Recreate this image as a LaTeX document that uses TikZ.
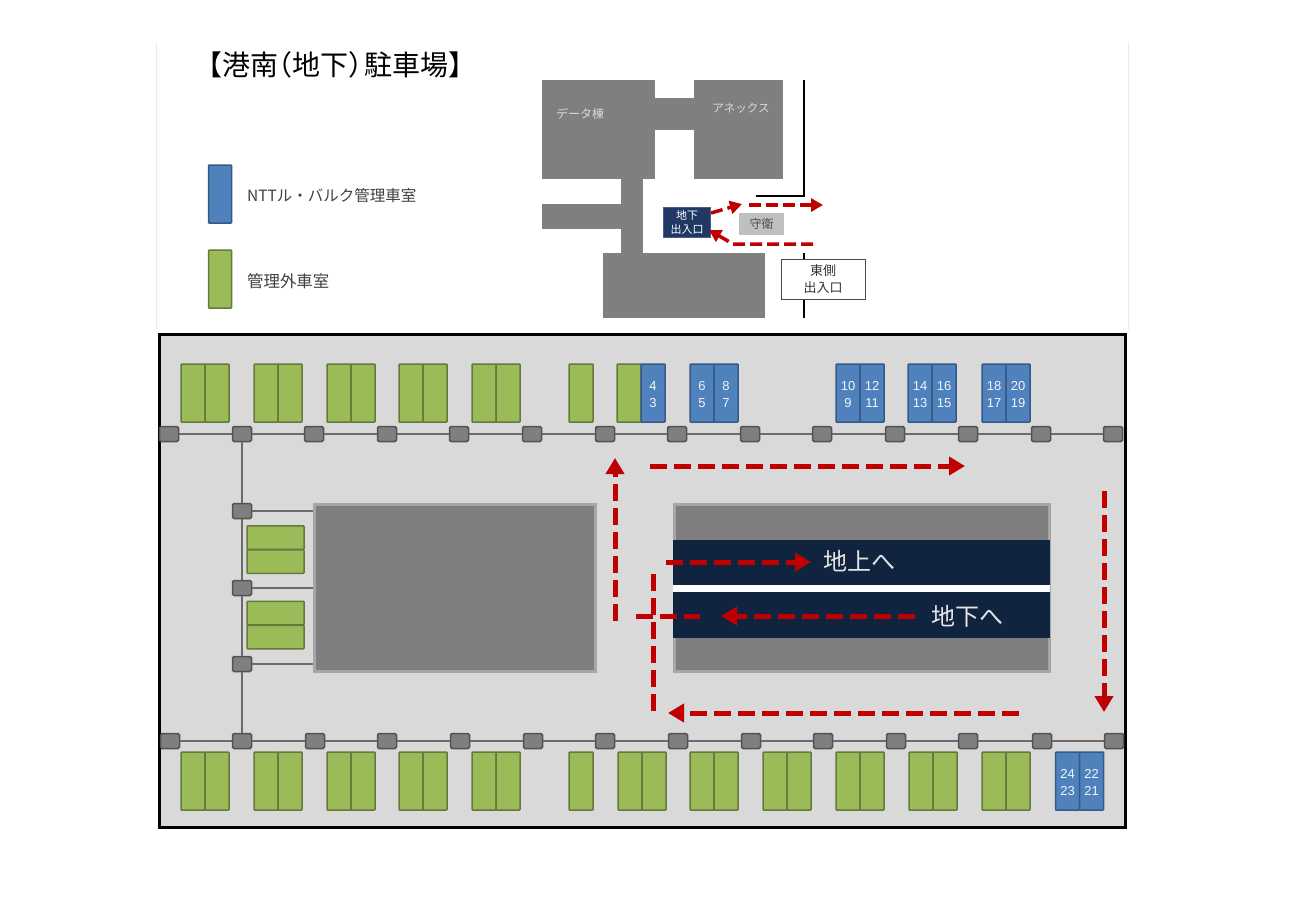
\documentclass[tikz,border=0pt]{standalone}
\usepackage{fontspec}
\setmainfont{Noto Sans CJK JP}
\newfontfamily\numfont{Liberation Sans}
\usetikzlibrary{arrows.meta}

\definecolor{slotgreen}{HTML}{9BBB59}
\definecolor{slotblue}{HTML}{4F81BD}
\definecolor{floorgray}{HTML}{D9D9D9}
\definecolor{bldggray}{HTML}{7F7F7F}
\definecolor{darknavy}{HTML}{10243F}
\definecolor{gatenavy}{HTML}{1F3864}
\definecolor{routered}{HTML}{C00000}

\newcommand{\numstrut}{\rule[-0.6pt]{0pt}{12.6pt}}

\tikzset{
    slotg/.style={draw=slotgreen!65!black, fill=slotgreen, line width=1.5pt, rounded corners=0.8pt, minimum width=24pt, minimum height=58pt, inner sep=0pt},
    slotb/.style={draw=slotblue!70!black, fill=slotblue, line width=1.5pt, rounded corners=0.8pt, minimum width=24pt, minimum height=58pt, inner sep=0pt, align=center, text=white!92!slotblue, font=\numfont\fontsize{13}{17}\selectfont},
    lamp/.style={draw=black!68, fill=bldggray, line width=1.5pt, rounded corners=1.5pt, minimum width=19pt, minimum height=15pt, inner sep=0pt},
    wire/.style={draw=black!58, line width=1.6pt},
    bldg/.style={fill=bldggray},
    block/.style={draw=black!35, fill=bldggray, line width=3pt, inner sep=0pt},
    strip/.style={fill=darknavy, minimum width=377pt, inner sep=0pt},
    route/.style={draw=routered, line width=5pt, dash pattern=on 17pt off 7pt, -{Triangle[length=16pt,width=18pt]}},
    routeplain/.style={draw=routered, line width=5pt, dash pattern=on 17pt off 7pt},
    minirt/.style={draw=routered, line width=3.5pt, dash pattern=on 12pt off 5pt, -{Triangle[length=12pt,width=13pt]}},
    bigtxt/.style={text=white!90!black, inner sep=0pt, font=\fontsize{24}{26}\selectfont},
    legendtxt/.style={text=black!75, inner sep=0pt, anchor=west}
}

\begin{document}
\begin{tikzpicture}[x=1pt, y=-1pt]
    \path[use as bounding box, fill=white] (0,0) rectangle (1293,922);

    % Page edges
    \draw[black!8, line width=1pt] (156,42) -- (156,330);
    \draw[black!8, line width=1pt] (1128,42) -- (1128,330);

    % Title and legend
    \node[inner sep=0pt, anchor=west, font=\fontsize{28}{30}\selectfont] (title) at (194,65) {【港南\hspace{-14pt}（地下）\hspace{-12pt}駐車場】};
    \node[draw=slotblue!70!black, fill=slotblue, line width=1.5pt, rounded corners=0.8pt, minimum width=23pt, minimum height=58pt] (keyblue) at (220,194) {};
    \node[draw=slotgreen!65!black, fill=slotgreen, line width=1.5pt, rounded corners=0.8pt, minimum width=23pt, minimum height=58pt] (keygreen) at (220,279) {};
    \node[legendtxt, font=\fontsize{15.5}{18}\selectfont] (keybluetxt) at (247,196) {NTTル・バルク管理車室};
    \node[legendtxt, font=\fontsize{16.4}{18}\selectfont] (keygreentxt) at (247,281) {管理外車室};

    % Site map
    \fill[bldg] (542,80) rectangle (655,179);
    \fill[bldg] (694,80) rectangle (783,179);
    \fill[bldg] (655,98) rectangle (694,130);
    \fill[bldg] (621,179) rectangle (643,253);
    \fill[bldg] (542,204) rectangle (621,229);
    \fill[bldg] (603,253) rectangle (765,318);
    \node[text=white!85!black, inner sep=0pt, font=\fontsize{12}{14}\selectfont] (datatxt) at (580,114) {データ棟};
    \node[text=white!85!black, inner sep=0pt, font=\fontsize{11.5}{14}\selectfont] (annextxt) at (741,108) {アネックス};
    \draw[black, line width=2.8pt] (804,80) -- (804,196) -- (756,196);
    \draw[black, line width=2.8pt] (804,253) -- (804,318);
    \node[fill=gatenavy, draw=gatenavy!80!white, minimum width=47pt, minimum height=30pt, inner sep=0pt, align=center, text=white, font=\fontsize{11}{14}\selectfont] (gate) at (687,222) {地下\\出入口};
    \node[fill=black!25, minimum width=45pt, minimum height=22pt, inner sep=0pt, text=black!70, font=\fontsize{12}{14}\selectfont] (guard) at (761.5,224) {守衛};
    \node[draw=black!70, fill=white, line width=1pt, minimum width=84pt, minimum height=40pt, inner sep=0pt, align=center, text=black!80, font=\fontsize{13}{17}\selectfont] (eastgate) at (823,279) {東側\\出入口};

    \coordinate (out1) at (711,213);
    \coordinate (out2) at (742,204);
    \coordinate (out3) at (749,205);
    \coordinate (out4) at (823,205);
    \coordinate (in1) at (813,244);
    \coordinate (in2) at (733,244);
    \coordinate (in3) at (709,230);
    \draw[minirt] (out1) -- (out2);
    \draw[minirt] (out3) -- (out4);
    \draw[minirt] (in1) -- (in2) -- (in3);

    % Parking floor
    \node[draw=black, fill=floorgray, line width=3pt, minimum width=966pt, minimum height=493pt, inner sep=0pt] (floor) at (642,580.5) {};

    % Blocks in the middle
    \node[block, minimum width=281pt, minimum height=167pt] (hall) at (455,587.5) {};
    \node[block, minimum width=375pt, minimum height=167pt] (ramp) at (862,587.5) {};
    \node[fill=white, minimum width=377pt, minimum height=7pt, inner sep=0pt] (gap) at (861.5,588) {};
    \node[strip, minimum height=45pt] (up) at (861.5,562.5) {};
    \node[strip, minimum height=46pt] (down) at (861.5,615) {};
    \node[bigtxt] (uptxt) at (859.5,561) {地上へ};
    \node[bigtxt] (downtxt) at (967.5,616) {地下へ};

    % Lamps along the top and bottom
    \foreach \x [count=\i] in {169,242,314,387,459,532,605,677,750,822,895,968,1041,1113} {
        \node[lamp] (T\i) at (\x,434) {};
    }
    \foreach \x [count=\i] in {170,242,315,387,460,533,605,678,751,823,896,968,1042,1114} {
        \node[lamp] (B\i) at (\x,741) {};
    }
    \foreach \i [remember=\i as \j (initially 1)] in {2,...,14} {
        \draw[wire] (T\j) -- (T\i);
        \draw[wire] (B\j) -- (B\i);
    }

    % Lamps beside the hall
    \foreach \y [count=\i] in {511,588,664} {
        \node[lamp] (S\i) at (242,\y) {};
        \draw[wire] (S\i) -- (S\i -| hall.west);
    }
    \draw[wire] (T2) -- (S1);
    \draw[wire] (S1) -- (S2);
    \draw[wire] (S2) -- (S3);
    \draw[wire] (S3) -- (B2);

    % Green slots, top
    \foreach \x [count=\i] in {205,278,351,423,496} {
        \node[slotg] (GTa\i) at (\x-12,393) {};
        \node[slotg] (GTb\i) at (\x+12,393) {};
    }
    \node[slotg] (GT6) at (581,393) {};
    \node[slotg] (GT7) at (629,393) {};

    % Green slots, bottom
    \foreach \x [count=\i] in {205,278,351,423,496,642,714,787,860,933,1006} {
        \node[slotg] (GBa\i) at (\x-12,781) {};
        \node[slotg] (GBb\i) at (\x+12,781) {};
    }
    \node[slotg] (GB6) at (581,781) {};

    % Green slots, side
    \foreach \y [count=\i] in {549.5,625} {
        \node[slotg, minimum width=57pt, minimum height=23.5pt] (GSa\i) at (275.5,\y-12) {};
        \node[slotg, minimum width=57pt, minimum height=23.5pt] (GSb\i) at (275.5,\y+12) {};
    }

    % Blue slots
    \node[slotb] (BT1) at (653,393) {\numstrut 4\\\numstrut 3};
    \foreach \x/\a/\b/\c/\d [count=\i] in {714/6/5/8/7, 860/10/9/12/11, 932/14/13/16/15, 1006/18/17/20/19} {
        \node[slotb] (BTa\i) at (\x-12,393) {\numstrut\a\\\numstrut\b};
        \node[slotb] (BTb\i) at (\x+12,393) {\numstrut\c\\\numstrut\d};
    }
    \node[slotb] (BBa) at (1067.5,781) {\numstrut 24\\\numstrut 23};
    \node[slotb] (BBb) at (1091.5,781) {\numstrut 22\\\numstrut 21};

    % Route on the floor
    \coordinate (r1a) at (615,621);
    \coordinate (r1b) at (615,458);
    \coordinate (r2a) at (650,466);
    \coordinate (r2b) at (965,466);
    \coordinate (r3a) at (1104,491);
    \coordinate (r3b) at (1104,712);
    \coordinate (r4a) at (1019,713);
    \coordinate (r4b) at (668,713);
    \coordinate (r5a) at (653,711);
    \coordinate (r5b) at (653,574);
    \coordinate (r6a) at (666,562);
    \coordinate (r6b) at (811,562);
    \coordinate (r7a) at (915,616);
    \coordinate (r7b) at (721,616);
    \coordinate (r8a) at (636,616);
    \coordinate (r8b) at (700,616);
    \draw[route] (r1a) -- (r1b);
    \draw[route] (r2a) -- (r2b);
    \draw[route] (r3a) -- (r3b);
    \draw[route] (r4a) -- (r4b);
    \draw[routeplain] (r5a) -- (r5b);
    \draw[route] (r6a) -- (r6b);
    \draw[route] (r7a) -- (r7b);
    \draw[routeplain] (r8a) -- (r8b);
\end{tikzpicture}
\end{document}
